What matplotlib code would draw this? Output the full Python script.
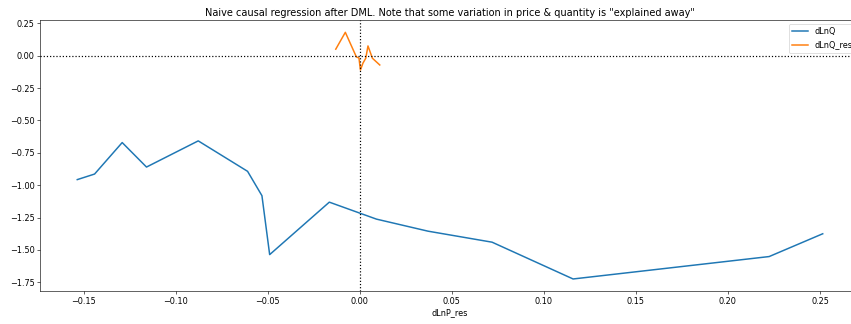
import matplotlib
matplotlib.use("Agg")
import matplotlib.pyplot as plt

# residualised price change vs. quantity changes
dlnp_res = [-0.1534, -0.1440, -0.1290, -0.1158, -0.0877, -0.0609, -0.0531, -0.0489,
            -0.0165, 0.0091, 0.0371, 0.0719, 0.1159, 0.2224, 0.2515]
dlnq = [-0.957, -0.914, -0.671, -0.860, -0.658, -0.893, -1.081, -1.536,
        -1.131, -1.262, -1.355, -1.440, -1.724, -1.551, -1.375]

dlnp_res_small = [-0.0130, -0.0078, -0.0018, -0.0004, 0.0004, 0.0018, 0.0033,
                  0.0045, 0.0069, 0.0109]
dlnq_res = [0.050, 0.180, -0.010, -0.018, -0.111, -0.057, -0.020, 0.075, -0.020, -0.072]

plt.rcParams["font.size"] = 10.8

DPI = 54
fig = plt.figure(figsize=(851 / DPI, 324 / DPI), dpi=DPI)
ax = fig.add_axes([40 / 851, 1 - 291.3 / 324, 820 / 851, (291.3 - 20) / 324])

ax.plot(dlnp_res, dlnq, label="dLnQ", lw=2)
ax.plot(dlnp_res_small, dlnq_res, label="dLnQ_res", lw=2)
ax.axhline(0, color="black", linestyle=":", lw=1.6)
ax.axvline(0, color="black", linestyle=":", lw=1.6)

ax.set_xlabel("dLnP_res")
ax.set_title('Naive causal regression after DML. Note that some variation in price & quantity is "explained away"')
ax.legend(loc="upper right")

fig.savefig("out.png", dpi=DPI)
